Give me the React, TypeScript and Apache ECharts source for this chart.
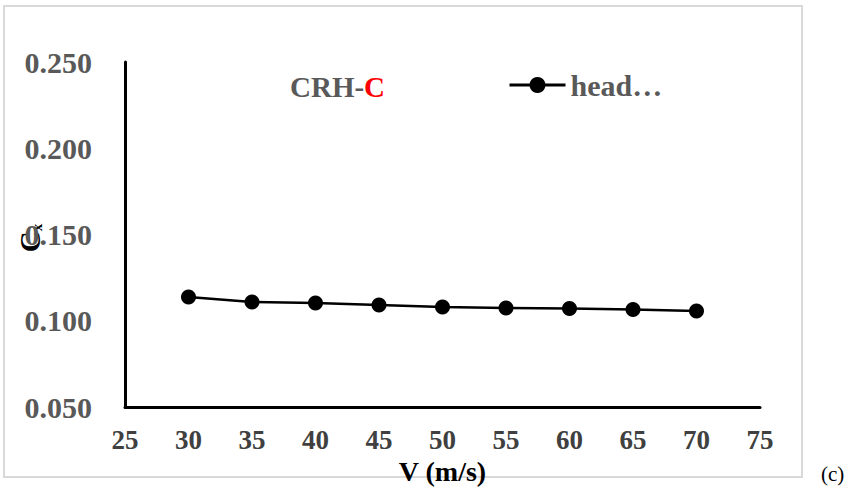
import React, { useEffect, useRef } from "react";
import * as echarts from "echarts";

const speeds = [30, 35, 40, 45, 50, 55, 60, 65, 70];
const cxValues = [0.1138, 0.1109, 0.1103, 0.1091, 0.108, 0.1074, 0.1071, 0.1065, 0.1057];
const seriesName = "head…";
const titleParts = ["CRH-", "C"];
const xName = "V (m/s)";
const panelTag = "(c)";

const serif = "'Liberation Serif', 'Times New Roman', serif";

export default function App() {
  const ref = useRef<HTMLDivElement>(null);
  useEffect(() => {
    if (!ref.current) return;
    const chart = echarts.init(ref.current, undefined, { renderer: "svg" });
    chart.setOption({
      animation: false,
      backgroundColor: "#ffffff",
      grid: { left: 125, right: 89, top: 62, bottom: 90, containLabel: false },
      legend: {
        data: [seriesName],
        left: 503,
        top: 65,
        itemWidth: 56,
        itemHeight: 20,
        itemGap: 0,
        lineStyle: { width: 3 },
        textStyle: { fontFamily: serif, fontWeight: "bold", fontSize: 30, color: "#595959", padding: [0, 0, 0, 0] },
      },
      xAxis: {
        type: "value",
        min: 25,
        max: 75,
        interval: 5,
        name: xName,
        nameLocation: "middle",
        nameGap: 45,
        nameTextStyle: { fontFamily: serif, fontWeight: "bold", fontSize: 28, color: "#000" },
        axisLine: { show: true, lineStyle: { color: "#000", width: 3 } },
        axisTick: { show: false },
        splitLine: { show: false },
        axisLabel: { margin: 19, fontFamily: serif, fontWeight: "bold", fontSize: 27, color: "#404040" },
      },
      yAxis: {
        type: "value",
        min: 0.05,
        max: 0.25,
        interval: 0.05,
        axisLine: { show: true, lineStyle: { color: "#000", width: 3 } },
        axisTick: { show: false },
        splitLine: { show: false },
        axisLabel: {
          margin: 33,
          fontFamily: serif,
          fontWeight: "bold",
          fontSize: 30,
          color: "#595959",
          formatter: (v: number) => v.toFixed(3),
        },
      },
      graphic: [
        {
          type: "rect",
          shape: { x: 4, y: 6, width: 798, height: 471 },
          style: { fill: "none", stroke: "#d9d9d9", lineWidth: 2 },
          z: -1,
        },
        {
          type: "text",
          left: 290,
          top: 72,
          style: {
            text: "{a|" + titleParts[0] + "}{b|" + titleParts[1] + "}",
            rich: {
              a: { fontFamily: serif, fontWeight: "bold", fontSize: 29, fill: "#595959" },
              b: { fontFamily: serif, fontWeight: "bold", fontSize: 29, fill: "#ff0000" },
            },
          },
        },
        {
          type: "text",
          x: 30,
          y: 238,
          rotation: Math.PI / 2,
          style: {
            text: "{a|C}{b|x}",
            align: "center",
            verticalAlign: "middle",
            rich: {
              a: { fontFamily: serif, fontWeight: "bold", fontSize: 29, fill: "#000" },
              b: { fontFamily: serif, fontWeight: "bold", fontSize: 15, fill: "#000", verticalAlign: "bottom" },
            },
          },
        },
        {
          type: "text",
          left: 821,
          top: 463,
          style: { text: panelTag, fontFamily: serif, fontSize: 21, fill: "#000" },
        },
      ],
      series: [
        {
          name: seriesName,
          type: "line",
          data: speeds.map((s, i) => [s, cxValues[i]]),
          symbol: "circle",
          symbolSize: 15,
          itemStyle: { color: "#000" },
          lineStyle: { color: "#000", width: 2.5 },
        },
      ],
    });
    return () => chart.dispose();
  }, []);
  return <div ref={ref} style={{ position: "fixed", left: 0, top: 0, width: 849, height: 497 }} />;
}
